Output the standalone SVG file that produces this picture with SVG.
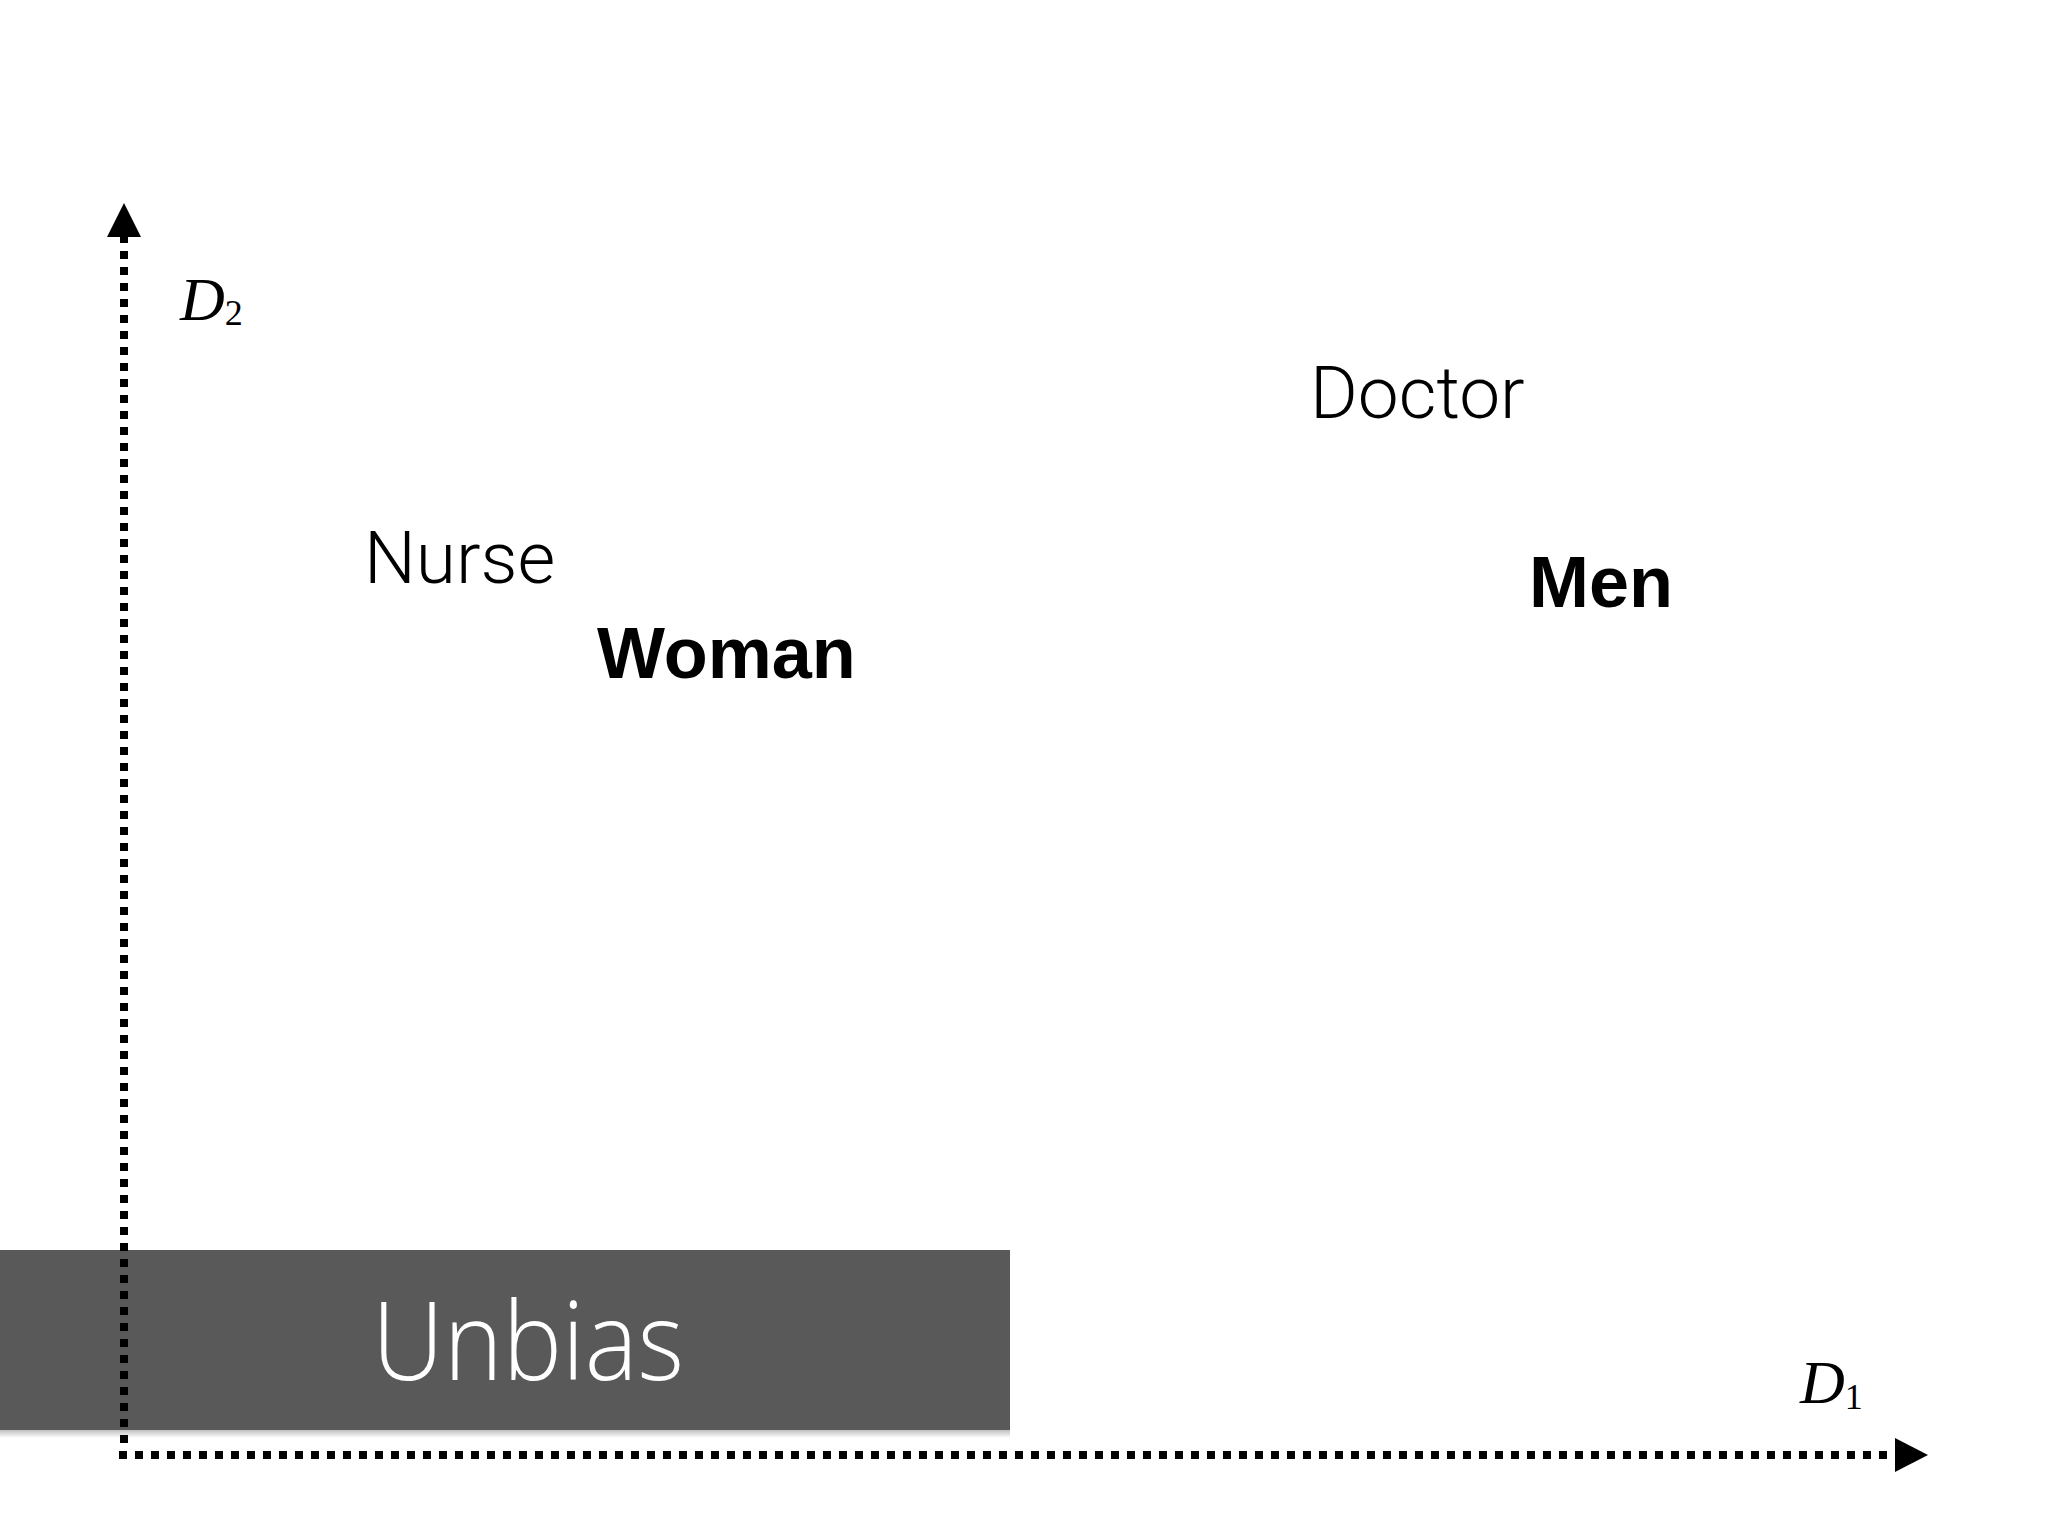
<svg xmlns="http://www.w3.org/2000/svg" width="2048" height="1536" viewBox="0 0 2048 1536">
  <style>
    .light { font-family: Roboto, "Liberation Sans", sans-serif; font-weight: 300; font-size: 73px; fill: #000; }
    .bold { font-family: "Liberation Sans", Arial, sans-serif; font-weight: 700; font-size: 72px; fill: #000; }
    .axislabel { font-family: "Liberation Serif", "DejaVu Serif", serif; font-style: italic; fill: #000; }
    .axis { stroke: #000; stroke-width: 8; stroke-dasharray: 8 8; fill: none; }
    .banner-text { font-family: "Open Sans", "Liberation Sans", sans-serif; font-weight: 300; font-size: 108px; fill: #fff; }
  </style>
  <defs>
    <linearGradient id="shadow" x1="0" y1="0" x2="0" y2="1">
      <stop offset="0" stop-color="#000" stop-opacity="0.25"/>
      <stop offset="1" stop-color="#000" stop-opacity="0"/>
    </linearGradient>
  </defs>
  <rect width="2048" height="1536" fill="#fff"/>

  <g id="banner">
    <rect x="0" y="1430" width="1010" height="8" fill="url(#shadow)"/>
    <rect x="0" y="1250" width="1010" height="180" fill="#595959"/>
    <text class="banner-text" x="372" y="1380" textLength="312" lengthAdjust="spacingAndGlyphs">Unbias</text>
  </g>

  <g id="connectors">
    <path class="axis" d="M124 235 V1443"/>
    <polygon points="107,237 124,203 141,237" fill="#000"/>
    <path class="axis" d="M119 1455 H1887"/>
    <polygon points="1895,1438 1928,1455 1895,1472" fill="#000"/>
  </g>

  <g id="label-d2">
    <text class="axislabel" x="180" y="320" font-size="62">D<tspan font-size="36" font-style="normal" dy="5">2</tspan></text>
  </g>
  <g id="label-d1">
    <text class="axislabel" x="1800" y="1403" font-size="62">D<tspan font-size="36" font-style="normal" dy="6">1</tspan></text>
  </g>

  <g id="node-doctor">
    <text class="light" x="1310" y="418">Doctor</text>
  </g>
  <g id="node-nurse">
    <text class="light" x="364" y="583">Nurse</text>
  </g>
  <g id="node-woman">
    <text class="bold" x="597" y="678">Woman</text>
  </g>
  <g id="node-men">
    <text class="bold" x="1529" y="607">Men</text>
  </g>
</svg>
